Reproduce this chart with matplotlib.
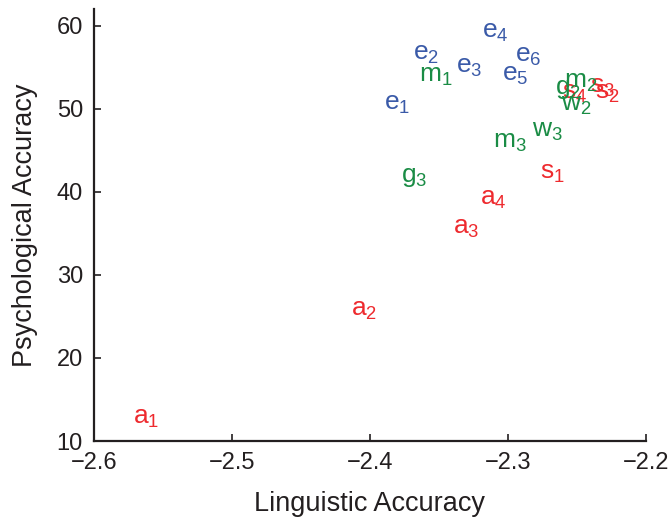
import matplotlib.pyplot as plt

plt.rcParams["font.family"] = ["Liberation Sans", "DejaVu Sans"]
plt.rcParams["mathtext.fontset"] = "custom"
plt.rcParams["mathtext.rm"] = "Liberation Sans"
plt.rcParams["mathtext.it"] = "Liberation Sans"

# label, linguistic accuracy, psychological accuracy
labels = ["a1", "a2", "a3", "a4",
          "s1", "s2", "s3", "s4",
          "g2", "g3",
          "m1", "m2", "m3",
          "w2", "w3",
          "e1", "e2", "e3", "e4", "e5", "e6"]
ling = [-2.570, -2.412, -2.338, -2.319,
        -2.275, -2.235, -2.239, -2.259,
        -2.264, -2.376,
        -2.363, -2.258, -2.309,
        -2.260, -2.281,
        -2.388, -2.367, -2.336, -2.317, -2.303, -2.293]
psych = [12.9, 25.9, 35.8, 39.3,
         42.4, 52.0, 52.8, 52.0,
         52.6, 42.0,
         54.1, 53.3, 46.1,
         50.6, 47.4,
         50.7, 56.7, 55.2, 59.4, 54.2, 56.5]

red = "#ee2a2e"
green = "#1a8c45"
blue = "#3a5aa8"
group_color = {"a": red, "s": red, "g": green, "m": green, "w": green, "e": blue}
ink = "#231f20"

fig = plt.figure(figsize=(6.68, 5.18), dpi=100)
ax = fig.add_axes([0.1407, 0.1486, 0.826, 0.834])

for lab, x, y in zip(labels, ling, psych):
    ax.annotate(lab[0] + r"$_{\mathregular{" + lab[1:] + "}}$", (x, y), xytext=(-1.5, -5),
                textcoords="offset points", ha="left", va="baseline",
                fontsize=19, color=group_color[lab[0]])

ax.set_xlim(-2.6, -2.2)
ax.set_ylim(10, 62)
ax.set_xticks([-2.6, -2.5, -2.4, -2.3, -2.2])
ax.set_xticklabels(["\u22122.6", "\u22122.5", "\u22122.4", "\u22122.3", "\u22122.2"])
ax.set_yticks([10, 20, 30, 40, 50, 60])
ax.spines["top"].set_visible(False)
ax.spines["right"].set_visible(False)
for s in ["left", "bottom"]:
    ax.spines[s].set_linewidth(1.6)
    ax.spines[s].set_color(ink)
ax.tick_params(direction="in", length=5, width=1.2, labelsize=17, colors=ink)
ax.tick_params(axis="x", pad=8)
ax.tick_params(axis="y", pad=8)
ax.set_xlabel("Linguistic Accuracy", fontsize=19.5, color=ink, labelpad=12)
ax.set_ylabel("Psychological Accuracy", fontsize=19.5, color=ink, labelpad=13)

fig.savefig("out.png", dpi=100)
